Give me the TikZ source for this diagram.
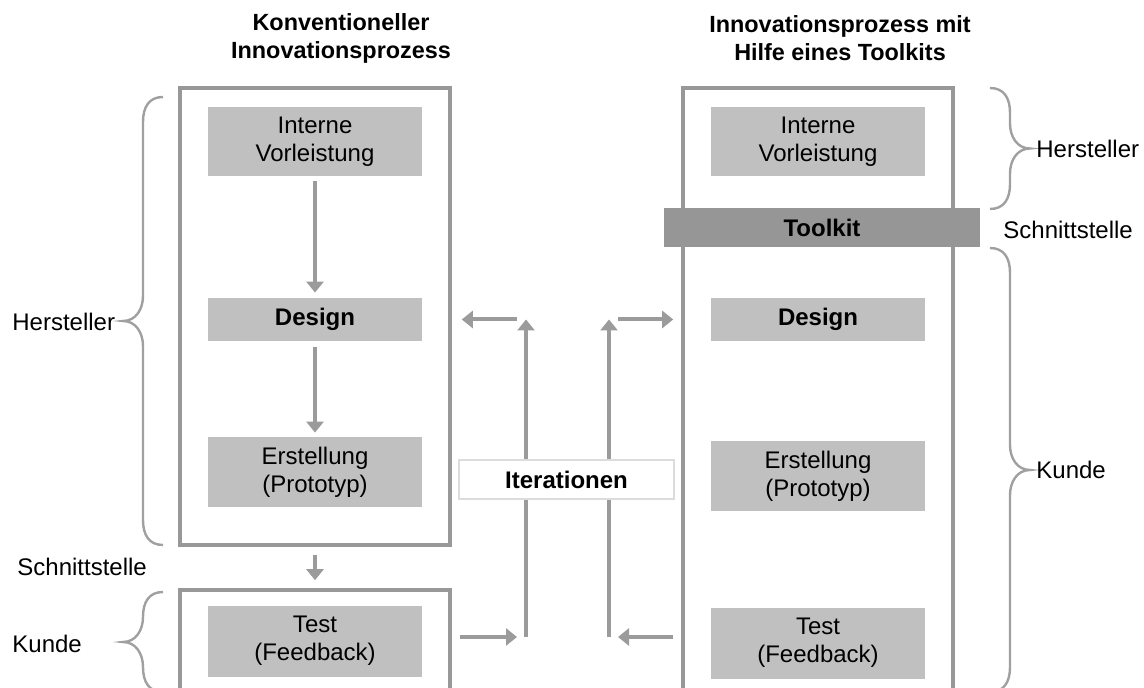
\documentclass[tikz,border=0pt]{standalone}
\usepackage{fontspec}
\setmainfont{Liberation Sans}
\usepackage{tikz}
\usetikzlibrary{arrows.meta, calc}

\definecolor{rahmengrau}{RGB}{152,152,152}
\definecolor{kastengrau}{RGB}{192,192,192}
\definecolor{toolkitgrau}{RGB}{150,150,150}
\definecolor{pfeilgrau}{RGB}{155,155,155}
\definecolor{klammergrau}{RGB}{160,160,160}
\definecolor{iterrahmen}{RGB}{220,220,220}

% geschweifte Klammer: #1 = x der Enden, #2 = oben, #3 = unten, #4 = Richtung (-1 links, 1 rechts)
\newcommand{\klammer}[4]{%
  \draw[klammerlinie] (#1,#2) .. controls ({#1+#4*14},#2) and ({#1+#4*20},{#2+10}) .. ({#1+#4*20},{#2+25})
    -- ({#1+#4*20},{(#2+#3)/2-25})
    .. controls ({#1+#4*20},{(#2+#3)/2-12}) and ({#1+#4*27},{(#2+#3)/2}) .. ({#1+#4*40},{(#2+#3)/2})
    .. controls ({#1+#4*27},{(#2+#3)/2}) and ({#1+#4*20},{(#2+#3)/2+12}) .. ({#1+#4*20},{(#2+#3)/2+25})
    -- ({#1+#4*20},{#3-25})
    .. controls ({#1+#4*20},{#3-10}) and ({#1+#4*14},#3) .. (#1,#3);}

\begin{document}
\begin{tikzpicture}[x=0.5pt, y=-0.5pt, font=\fontsize{12}{14}\selectfont,
    rahmen/.style={draw=rahmengrau, line width=1.8pt, minimum width=135pt, inner sep=0pt},
    kasten/.style={fill=kastengrau, minimum width=107pt, align=center, inner sep=0pt},
    fett/.style={font=\fontsize{12}{14}\selectfont\bfseries},
    titel/.style={font=\fontsize{11.7}{14}\selectfont\bfseries, align=center},
    beschriftung/.style={anchor=west, inner sep=0pt},
    pfeil/.style={draw=pfeilgrau, line width=2pt, -{Triangle[length=5.5pt,width=8.5pt]}},
    klammerlinie/.style={draw=klammergrau, line width=1.2pt}]
  \clip (0,0) rectangle (1144,688);

  % Ueberschriften
  \node[titel] (titelL) at (341,38) {Konventioneller\\Innovationsprozess};
  \node[titel] (titelR) at (840,38) {Innovationsprozess mit\\Hilfe eines Toolkits};

  % konventioneller Prozess
  \node[rahmen, minimum height=228.5pt] (konvbox) at (315,316.5) {};
  \node[kasten, minimum height=34.5pt] (interneL) at (315,141.5) {Interne\\Vorleistung};
  \node[kasten, fett, minimum height=21.5pt] (designL) at (315,319.5) {Design};
  \node[kasten, minimum height=35pt] (erstellungL) at (315,472) {Erstellung\\(Prototyp)};
  \node[rahmen, minimum height=65pt] (testbox) at (315,655) {};
  \node[kasten, minimum height=35.5pt] (testL) at (315,641) {Test\\(Feedback)};

  \draw[pfeil, shorten <=2.5pt, shorten >=2.5pt] (interneL) -- (designL);
  \draw[pfeil, shorten <=3pt, shorten >=2pt] (designL) -- (erstellungL);
  \draw[pfeil, shorten <=4pt, shorten >=4pt] (konvbox) -- (testbox);

  % Prozess mit Toolkit
  \node[rahmen, minimum height=316pt] (rahmenR) at (818,404) {};
  \node[kasten, minimum height=34.5pt] (interneR) at (818,141.5) {Interne\\Vorleistung};
  \node[fill=toolkitgrau, fett, minimum width=158pt, minimum height=19.5pt] (toolkit) at (822,227.5) {Toolkit};
  \node[kasten, fett, minimum height=21.5pt] (designR) at (818,319.5) {Design};
  \node[kasten, minimum height=35pt] (erstellungR) at (818,476.5) {Erstellung\\(Prototyp)};
  \node[kasten, minimum height=35.5pt] (testR) at (818,643) {Test\\(Feedback)};

  % Klammern und Beschriftungen
  \klammer{163}{97}{545}{-1}
  \klammer{163}{592}{692}{-1}
  \klammer{990}{88}{209}{1}
  \klammer{990}{248}{692}{1}
  \node[beschriftung] (herstellerL) at (12,322) {Hersteller};
  \node[beschriftung] (schnittL) at (17,567) {Schnittstelle};
  \node[beschriftung] (kundeL) at (12,644) {Kunde};
  \node[beschriftung] (herstellerR) at (1036,149) {Hersteller};
  \node[beschriftung] (schnittR) at (1003,230) {Schnittstelle};
  \node[beschriftung] (kundeR) at (1036,470) {Kunde};

  % Iterationen
  \coordinate (schleifeL) at (526,637);
  \coordinate (schleifeR) at (609,637);
  \draw[pfeil, shorten <=4pt, shorten >=4.5pt] (testbox.east |- schleifeL) -- (schleifeL);
  \draw[pfeil] (schleifeL) -- (schleifeL |- designL);
  \draw[pfeil, shorten <=4.5pt, shorten >=5pt] (schleifeL |- designL) -- (konvbox.east |- designL);
  \draw[pfeil, shorten <=4pt, shorten >=4.5pt] (rahmenR.west |- schleifeR) -- (schleifeR);
  \draw[pfeil] (schleifeR) -- (schleifeR |- designR);
  \draw[pfeil, shorten <=4.5pt, shorten >=4pt] (schleifeR |- designR) -- (rahmenR.west |- designR);
  \node[fett, fill=white, draw=iterrahmen, line width=0.6pt, minimum width=107.5pt, minimum height=19.5pt] (iter) at (566.5,479.5) {Iterationen};
\end{tikzpicture}
\end{document}
